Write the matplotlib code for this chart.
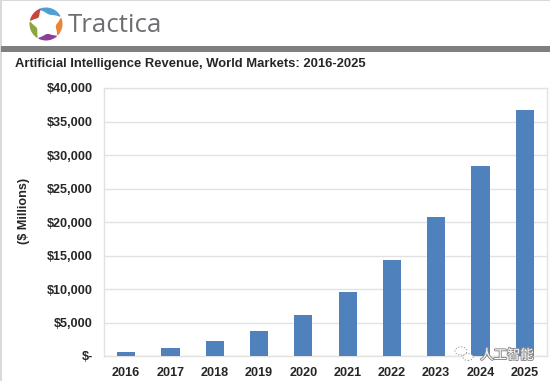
import matplotlib
matplotlib.use("Agg")
import matplotlib.pyplot as plt
import matplotlib.patheffects as pe
from matplotlib.patches import Polygon, Rectangle, Circle
import numpy as np

W, H = 550, 381

years = ["2016", "2017", "2018", "2019", "2020", "2021", "2022", "2023", "2024", "2025"]
revenue = [650, 1250, 2200, 3700, 6100, 9600, 14400, 20700, 28300, 36700]
y_ticks = [0, 5000, 10000, 15000, 20000, 25000, 30000, 35000, 40000]
y_labels = ["$-", "$5,000", "$10,000", "$15,000", "$20,000", "$25,000",
            "$30,000", "$35,000", "$40,000"]
logo_colors = ["#4f9fd0", "#e8853a", "#8a3f98", "#8aa63c", "#c8453c"]
logo_starts = [-115, -22, 48, 122, 192]
logo_ends = [-28, 44, 118, 188, 250]

plt.rcParams["font.family"] = ["Liberation Sans", "DejaVu Sans"]

fig = plt.figure(figsize=(W / 100, H / 100), dpi=100)


def px(x, y):
    # pixel coords (from top left) -> figure fraction
    return x / W, 1 - y / H


# ---- header --------------------------------------------------------------
fig.add_artist(Rectangle(px(0, 381), 2 / W, 1, transform=fig.transFigure, color="#d9d9d9", lw=0))
fig.add_artist(Rectangle(px(0, 1), 1, 1 / H, transform=fig.transFigure, color="#d9d9d9", lw=0))
fig.add_artist(Rectangle(px(1, 52), 1, 6 / H, transform=fig.transFigure, color="#7f7f7f", lw=0))

# logo ring, five blades that swell in the middle
cx, cy = 46, 24
for col, a0, a1 in zip(logo_colors, logo_starts, logo_ends):
    t = np.linspace(0, 1, 20)
    ang = np.radians(a0 + (a1 - a0) * t)
    inner = 16.5 - (1 + 5.5 * np.sin(np.pi * t))
    outer_pts = [px(cx + 16.5 * np.cos(a), cy + 16.5 * np.sin(a)) for a in ang]
    inner_pts = [px(cx + r * np.cos(a), cy + r * np.sin(a)) for a, r in zip(ang[::-1], inner[::-1])]
    fig.add_artist(Polygon(outer_pts + inner_pts, closed=True, transform=fig.transFigure,
                           color=col, lw=0))

fig.text(*px(68, 25), "Tractica", fontsize=18.6, color="#6d6e71", va="center", ha="left",
         family=["Open Sans", "DejaVu Sans"])
fig.text(*px(15, 64.5), "Artificial Intelligence Revenue, World Markets: 2016-2025",
         fontsize=9.4, fontweight="bold", color="#262626", va="center", ha="left")

# ---- chart ---------------------------------------------------------------
ax = fig.add_axes([104 / W, 1 - 356 / H, 443 / W, 268 / H])
x = np.arange(len(years))
ax.bar(x, revenue, width=0.41, color="#4f81bd", zorder=3)
ax.set_xlim(-0.5, len(years) - 0.5)
ax.set_ylim(0, 40000)
ax.set_xticks(x, years)
ax.set_yticks(y_ticks, y_labels)
ax.grid(axis="y", color="#e2e2e2", lw=1, zorder=0)
ax.set_axisbelow(True)
ax.tick_params(length=0, labelsize=9.1, labelcolor="#262626", pad=8)
for lab in ax.get_xticklabels() + ax.get_yticklabels():
    lab.set_fontweight("bold")
for name in ["top", "left", "bottom", "right"]:
    ax.spines[name].set_color("#e2e2e2")
    ax.spines[name].set_linewidth(1)
fig.text(*px(24, 211), "($ Millions)", fontsize=9.1, fontweight="bold", color="#262626",
         rotation=90, va="center", ha="center")

# ---- watermark -----------------------------------------------------------
stroke = [pe.withStroke(linewidth=1.4, foreground="#8c8c8c")]
fig.text(*px(507, 355), "人工智能", fontsize=9.6, color="white", va="center", ha="center",
         family=["Noto Sans CJK SC", "DejaVu Sans"], path_effects=stroke, zorder=10)
for cc, r in [((461, 351), 6), ((468, 357), 5)]:
    fig.add_artist(Circle(px(*cc), r / W, transform=fig.transFigure, fc="white", ec="#9a9a9a",
                          lw=0.8, ls=":", zorder=10))

fig.savefig("out.png", dpi=100)
